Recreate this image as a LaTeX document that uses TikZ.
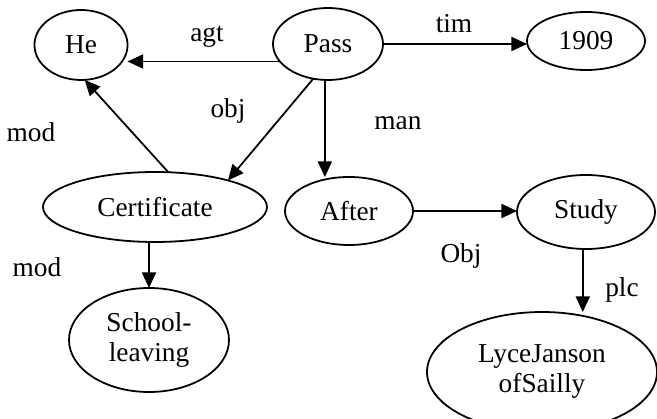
\documentclass[tikz,border=0pt]{standalone}
\usepackage{fontspec}
\setmainfont{Liberation Serif}
\usetikzlibrary{shapes.geometric,arrows.meta}

\begin{document}
\begin{tikzpicture}[x=0.45pt, y=-0.45pt, line width=0.8pt, black,
    concept/.style={draw, ellipse, inner sep=0pt, outer sep=0pt, align=center,
        font=\fontsize{12.3}{13.5}\selectfont},
    rel/.style={font=\fontsize{12.3}{13.5}\selectfont},
    arr/.style={-{Triangle[length=7pt,width=6.3pt]}}]

    %frame
    \useasboundingbox (0,0) rectangle (657,419);

    %concepts
    \node[concept, minimum width=41.9pt, minimum height=31.5pt] (He) at (81,45) {He};
    \node[concept, minimum width=49.5pt, minimum height=32.4pt] (Pass) at (328,44) {Pass};
    \node[concept, minimum width=53.1pt, minimum height=26.1pt] (Year) at (586,41) {1909};
    \node[concept, minimum width=100.8pt, minimum height=31.5pt] (Cert) at (155,207) {Certificate};
    \node[concept, minimum width=57.6pt, minimum height=30.6pt] (After) at (349,211) {After};
    \node[concept, minimum width=62.1pt, minimum height=33.3pt] (Study) at (586,212) {Study};
    \node[concept, minimum width=72pt, minimum height=46.8pt] (School) at (149,340) {School-\\leaving};
    \node[concept, minimum width=103.5pt, minimum height=54pt] (Lyce) at (542,372) {LyceJanson\\ofSailly};

    %relations
    \draw[arr] (Pass.200) -- (Pass.200 -| He.east);
    \draw[arr] (Pass.east) -- (Pass.east -| Year.west);
    \draw[arr] (Pass.247) -- (Cert.20);
    \draw[arr] (Cert.69) -- (He.-84);
    \draw[arr] (Pass.265) -- (Pass.265 |- After.north);
    \draw[arr] (After.east) -- (After.east -| Study.west);
    \draw[arr] (School.north |- Cert.south) -- (School.north);
    \draw[arr] (Study.265) -- (Study.265 |- Lyce.north);

    %labels
    \node[rel] (lagt) at (207,37) {agt};
    \node[rel] (ltim) at (454,24) {tim};
    \node[rel] (lobj) at (228,111) {obj};
    \node[rel] (lmodA) at (31,132) {mod};
    \node[rel] (lman) at (398,123) {man};
    \node[rel] (lmodB) at (37,267) {mod};
    \node[rel] (lObj) at (461,256) {Obj};
    \node[rel] (lplc) at (622,290) {plc};

\end{tikzpicture}
\end{document}
